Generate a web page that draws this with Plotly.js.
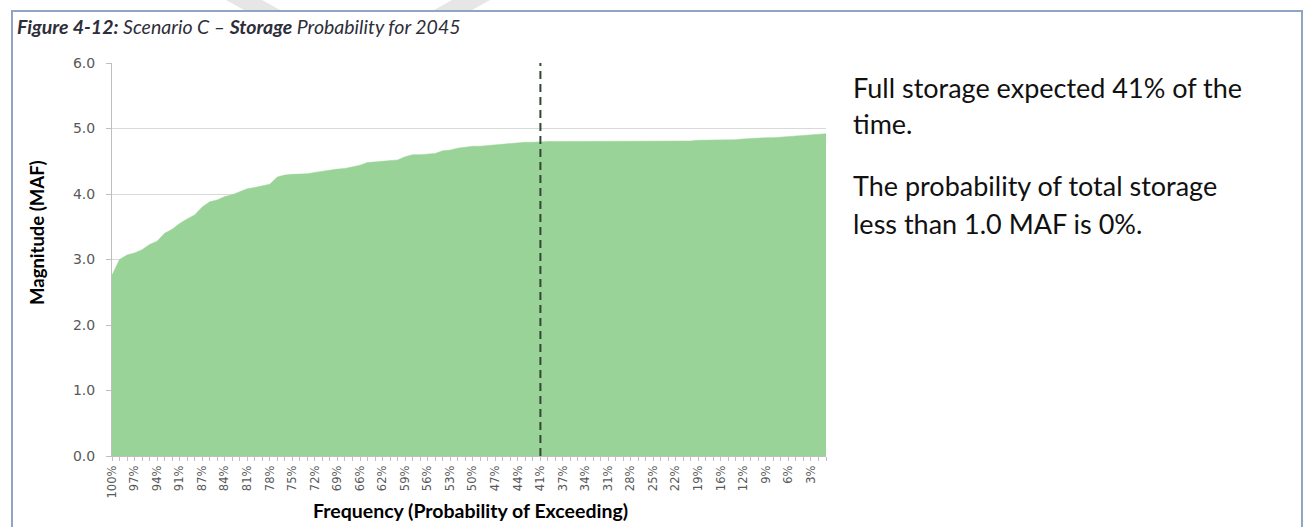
<!DOCTYPE html>
<html>
<head>
<meta charset="utf-8">
<script src="https://cdn.plot.ly/plotly-3.0.1.min.js"></script>
<style>
  html, body { margin: 0; padding: 0; background: #ffffff; }
  #chart { width: 1304px; height: 527px; }
</style>
</head>
<body>
<div id="chart"></div>
<script>
// ---------- DATA ----------
// Visible x tick labels (every 3rd point of 96 sorted storage values)
const tickLabels = ["100%","97%","94%","91%","87%","84%","81%","78%","75%","72%","69%","66%",
  "62%","59%","56%","53%","50%","47%","44%","41%","37%","34%","31%","28%","25%","22%",
  "19%","16%","12%","9%","6%","3%"];
const tickEvery = 3;

// Storage magnitude (MAF), ordered from 100% exceedance down to ~1%
const magnitude = [
  2.76, 3.00, 3.07, 3.10, 3.15, 3.23, 3.28, 3.40, 3.46, 3.55,
  3.62, 3.68, 3.80, 3.88, 3.91, 3.96, 3.99, 4.03, 4.08, 4.10,
  4.12, 4.15, 4.26, 4.29, 4.30, 4.30, 4.31, 4.33, 4.35, 4.36,
  4.38, 4.39, 4.41, 4.44, 4.48, 4.49, 4.50, 4.51, 4.52, 4.57,
  4.60, 4.60, 4.61, 4.62, 4.66, 4.67, 4.70, 4.72, 4.73, 4.73,
  4.74, 4.75, 4.77, 4.78, 4.78, 4.79, 4.79, 4.80, 4.80, 4.80,
  4.80, 4.81, 4.81, 4.81, 4.81, 4.81, 4.81, 4.81, 4.81, 4.81,
  4.81, 4.81, 4.81, 4.81, 4.81, 4.81, 4.81, 4.81, 4.82, 4.82,
  4.82, 4.82, 4.82, 4.83, 4.84, 4.85, 4.85, 4.86, 4.86, 4.87,
  4.87, 4.88, 4.89, 4.90, 4.91, 4.92
];

const fullStorageLabel = "41%";
const yTickValues = [0, 1, 2, 3, 4, 5, 6];

// ---------- TEXT ----------
const captionParts = { fig: "Figure 4-12:", a: " Scenario C – ", b: "Storage", c: " Probability for 2045" };
const noteLines = [
  "Full storage expected 41% of the",
  "time.",
  "The probability of total storage",
  "less than 1.0 MAF is 0%."
];
const xTitle = "Frequency (Probability of Exceeding)";
const yTitle = "Magnitude (MAF)";

// ---------- LAYOUT HELPERS (pixel -> paper) ----------
const W = 1304, H = 527;
const M = { l: 112, r: 478, t: 63, b: 71 };
const PW = W - M.l - M.r, PH = H - M.t - M.b;
const px = x => (x - M.l) / PW;
const py = y => (H - M.b - y) / PH;

const xIdx = magnitude.map((_, i) => i);
const tickVals = tickLabels.map((_, k) => k * tickEvery);
const fullIdx = tickLabels.indexOf(fullStorageLabel) * tickEvery;

const font = "Lato, 'Open Sans', sans-serif";
const tickFont = "'DejaVu Sans', Verdana, sans-serif";
const gray = "#595959";

const traces = [{
  type: "scatter",
  mode: "lines",
  x: xIdx,
  y: magnitude,
  fill: "tozeroy",
  fillcolor: "#99d397",
  line: { color: "#99d397", width: 0.5 },
  hoverinfo: "skip",
  showlegend: false
}];

const borderColor = "#8ea6c4";
const shapes = [
  // dashed "full storage" marker
  { type: "line", xref: "x", yref: "paper", x0: fullIdx, x1: fullIdx, y0: 0, y1: 1,
    line: { color: "#354535", width: 2, dash: "8px,5px" } },
  // figure frame
  { type: "path", xref: "paper", yref: "paper",
    path: `M ${px(12)} ${py(540)} L ${px(12)} ${py(11)} L ${px(1302)} ${py(11)} L ${px(1302)} ${py(540)}`,
    line: { color: borderColor, width: 2 } },
  // faint watermark bands above the frame
  { type: "path", xref: "paper", yref: "paper", layer: "below",
    path: `M ${px(226)} ${py(0)} L ${px(262)} ${py(0)} L ${px(280)} ${py(10)} L ${px(244)} ${py(10)} Z`,
    fillcolor: "#e6e6e6", line: { width: 0 } },
  { type: "path", xref: "paper", yref: "paper", layer: "below",
    path: `M ${px(452)} ${py(0)} L ${px(490)} ${py(0)} L ${px(472)} ${py(10)} L ${px(434)} ${py(10)} Z`,
    fillcolor: "#e6e6e6", line: { width: 0 } }
];

const annotations = [
  { xref: "paper", yref: "paper", x: px(15), y: py(26), xanchor: "left", yanchor: "middle",
    showarrow: false,
    text: `<b><i>${captionParts.fig}</i></b><i>${captionParts.a}</i><b><i>${captionParts.b}</i></b><i>${captionParts.c}</i>`,
    font: { family: font, size: 19.5, color: "#2e2e3a" } },
  { xref: "paper", yref: "paper", x: px(37), y: py(233), xanchor: "center", yanchor: "middle",
    showarrow: false, textangle: -90, text: `<b>${yTitle}</b>`,
    font: { family: font, size: 18.5, color: "#000000" } },
  { xref: "paper", yref: "paper", x: px(470), y: py(510), xanchor: "center", yanchor: "middle",
    showarrow: false, text: `<b>${xTitle}</b>`,
    font: { family: font, size: 19.5, color: "#000000" } }
];
const noteY = [87, 123, 185, 223];
noteLines.forEach((t, k) => annotations.push({
  xref: "paper", yref: "paper", x: px(851), y: py(noteY[k]), xanchor: "left", yanchor: "middle",
  showarrow: false, text: t, font: { family: font, size: 27, color: "#111111" }
}));

const layout = {
  width: W, height: H,
  margin: M,
  paper_bgcolor: "#ffffff",
  plot_bgcolor: "#ffffff",
  showlegend: false,
  xaxis: {
    type: "linear",
    range: [0, magnitude.length - 1],
    tickmode: "array",
    tickvals: tickVals,
    ticktext: tickLabels,
    tickangle: -90,
    ticks: "outside", ticklen: 4, tickcolor: "#bfbfbf",
    minor: { tickmode: "linear", tick0: 0, dtick: 1, ticks: "outside", ticklen: 4, tickcolor: "#bfbfbf", showgrid: false },
    showgrid: false, zeroline: false,
    showline: true, linecolor: "#bfbfbf", linewidth: 1,
    tickfont: { family: tickFont, size: 11.5, color: gray },
    fixedrange: true
  },
  yaxis: {
    range: [0, 6],
    tickmode: "array",
    tickvals: yTickValues,
    tickformat: ".1f",
    ticks: "outside", ticklen: 5, tickcolor: "#bfbfbf",
    ticklabelstandoff: 8,
    showgrid: true, gridcolor: "#d9d9d9", gridwidth: 1,
    zeroline: false,
    showline: true, linecolor: "#bfbfbf", linewidth: 1,
    tickfont: { family: tickFont, size: 14, color: gray },
    fixedrange: true
  },
  shapes: shapes,
  annotations: annotations
};

Plotly.newPlot("chart", traces, layout, { displayModeBar: false, staticPlot: true });
</script>
</body>
</html>
